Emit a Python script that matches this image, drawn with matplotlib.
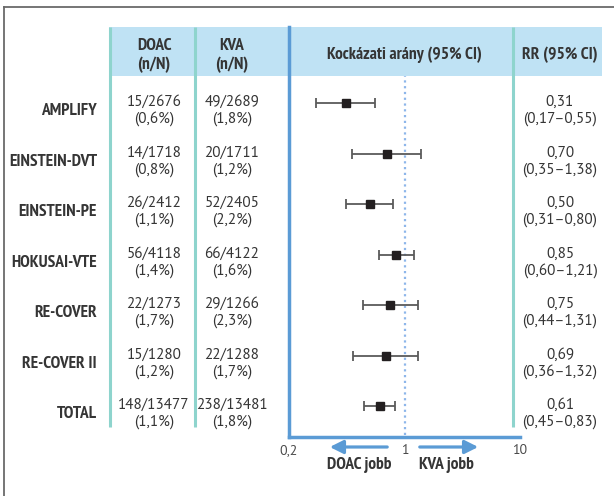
import matplotlib
matplotlib.use("Agg")
import matplotlib.pyplot as plt
import numpy as np
from matplotlib.patches import Rectangle, FancyArrowPatch
from matplotlib.transforms import blended_transform_factory

plt.rcParams['font.family'] = ['PT Sans Narrow', 'DejaVu Sans']
num_font = ['PT Sans', 'DejaVu Sans']

# adatok
studies = ["AMPLIFY", "EINSTEIN-DVT", "EINSTEIN-PE", "HOKUSAI-VTE", "RE-COVER", "RE-COVER II", "TOTAL"]
doac_n = [15, 14, 26, 56, 22, 15, 148]
doac_N = [2676, 1718, 2412, 4118, 1273, 1280, 13477]
doac_pct = [0.6, 0.8, 1.1, 1.4, 1.7, 1.2, 1.1]
kva_n = [49, 20, 52, 66, 29, 22, 238]
kva_N = [2689, 1711, 2405, 4122, 1266, 1288, 13481]
kva_pct = [1.8, 1.2, 2.2, 1.6, 2.3, 1.7, 1.8]
rr = [0.31, 0.70, 0.50, 0.85, 0.75, 0.69, 0.61]
ci_lo = [0.17, 0.35, 0.31, 0.60, 0.44, 0.36, 0.45]
ci_hi = [0.55, 1.38, 0.80, 1.21, 1.31, 1.32, 0.83]
x_ticks = [0.1, 1, 10]
x_ticklabels = ["0,2", "1", "10"]


def hu(v, nd):
    return f"{v:.{nd}f}".replace(".", ",")


W, H = 614, 496
txt_col = "#353535"
head_col = "#bfe2f4"
teal = "#8ed4cd"
blue = "#5b9bd5"

fig = plt.figure(figsize=(W / 100, H / 100), dpi=100)

# háttér réteg pixel koordinátákkal
bg = fig.add_axes([0, 0, 1, 1])
bg.set_xlim(0, W)
bg.set_ylim(H, 0)
bg.axis("off")

bg.plot([4, W], [7, 7], color="#6a6a6a", lw=1.3)
bg.plot([4, 4], [7, H], color="#6a6a6a", lw=1.3)
bg.add_patch(Rectangle((109, 27), 493, 49, color=head_col, lw=0))
for xv in [110, 195, 513]:
    bg.plot([xv, xv], [27, 427], color=teal, lw=2.2, solid_capstyle="butt")

# fejléc
hb = dict(ha="center", va="baseline", fontsize=12.5, fontweight="bold", color=txt_col)
bg.text(154, 50, "DOAC", **hb)
bg.text(154, 69, "(n/N)", **hb)
bg.text(232, 50, "KVA", **hb)
bg.text(232, 69, "(n/N)", **hb)
bg.text(404, 59, "Kockázati arány (95% CI)", **hb)
bg.text(560, 59, "RR (95% CI)", **hb)

# nyilak
for x0, x1 in [(390, 327), (417, 481)]:
    bg.add_patch(FancyArrowPatch((x0, 447), (x1, 447), arrowstyle="-|>,head_length=8,head_width=4",
                                 color=blue, lw=2.3, mutation_scale=1))
bg.text(359, 469, "DOAC jobb", ha="center", va="baseline", fontsize=12.5, fontweight="bold", color=txt_col)
bg.text(446, 469, "KVA jobb", ha="center", va="baseline", fontsize=12.5, fontweight="bold", color=txt_col)

# forest plot
ax = fig.add_axes([289 / W, 1 - 437 / H, 231 / W, 410 / H])
ax.set_facecolor("none")
ax.set_xscale("log")
ax.set_xlim(0.1, 10)
px_row = 50.5
ax.set_ylim((437 - 103) / px_row, -(103 - 27) / px_row)

rows = np.arange(len(studies))
rr_a = np.array(rr)
xerr = [rr_a - np.array(ci_lo), np.array(ci_hi) - rr_a]
ax.axvline(1, ymin=0.005, ymax=(437 - 76) / 410, color="#8db6ea", lw=1.6, ls=(0, (1, 1.6)), zorder=1)
ax.errorbar(rr_a, rows, xerr=xerr, fmt="s", color="#231f20", ms=6, mec="#231f20",
            ecolor="#5a5a5a", elinewidth=1.3, capsize=3.5, capthick=1.3, zorder=3)

for s in ["top", "right"]:
    ax.spines[s].set_visible(False)
for s in ["left", "bottom"]:
    ax.spines[s].set_color(blue)
    ax.spines[s].set_linewidth(2.5)
ax.set_xticks(x_ticks)
ax.set_xticklabels(x_ticklabels, family=num_font)
ax.xaxis.set_minor_locator(plt.NullLocator())
ax.tick_params(axis="x", length=0, pad=5, labelsize=10, labelcolor="#4a4a4a")
ax.set_yticks([])

# táblázat szövegek a sorokhoz igazítva
tr = blended_transform_factory(fig.transFigure, ax.transData)
l1, l2, lab = 0.06, 0.39, 0.24
for i in rows:
    ax.text(97 / W, i + lab, studies[i], transform=tr, ha="right", va="baseline",
            fontsize=12.5, fontweight="bold", color=txt_col, clip_on=False)
    cols = [
        (154, f"{doac_n[i]}/{doac_N[i]}", f"({hu(doac_pct[i], 1)}%)"),
        (232, f"{kva_n[i]}/{kva_N[i]}", f"({hu(kva_pct[i], 1)}%)"),
        (560, hu(rr[i], 2), f"({hu(ci_lo[i], 2)}\u2013{hu(ci_hi[i], 2)})"),
    ]
    for xc, a, b in cols:
        ax.text(xc / W, i + l1, a, transform=tr, ha="center", va="baseline",
                fontsize=11, family=num_font, color=txt_col, clip_on=False)
        ax.text(xc / W, i + l2, b, transform=tr, ha="center", va="baseline",
                fontsize=11, family=num_font, color=txt_col, clip_on=False)

fig.savefig("out.png", dpi=100)
